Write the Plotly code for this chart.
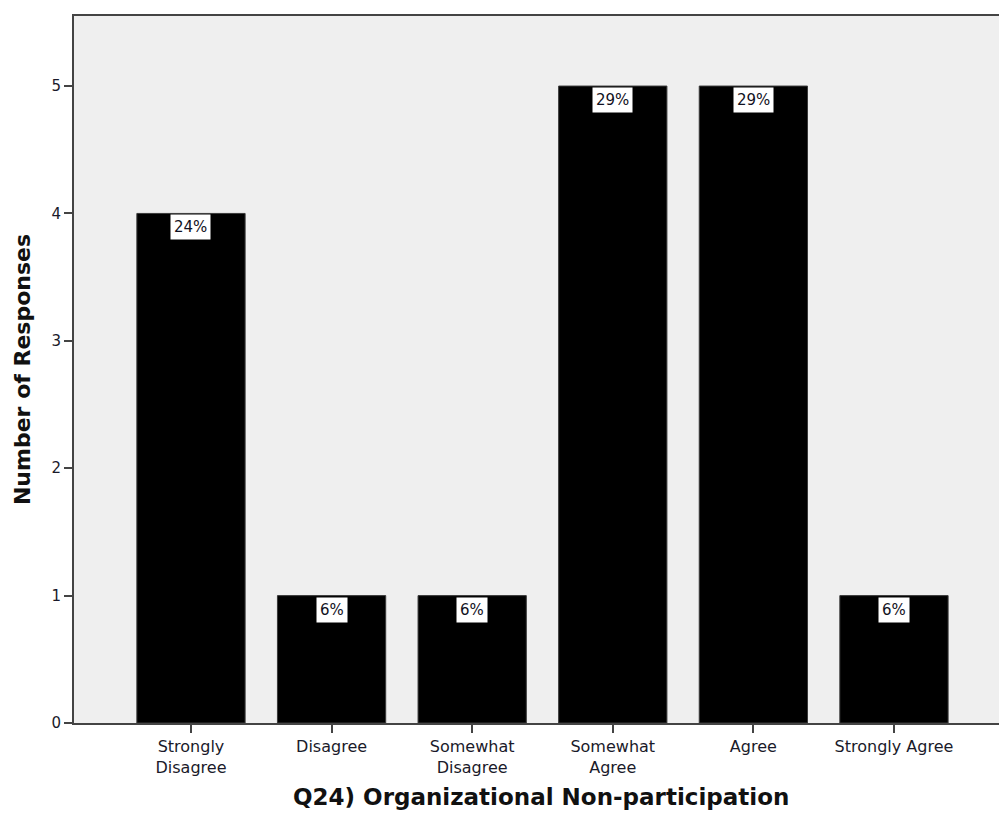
import plotly.graph_objects as go

# Survey item: organizational non-participation
categories = ["Strongly<br>Disagree", "Disagree", "Somewhat<br>Disagree",
              "Somewhat<br>Agree", "Agree", "Strongly Agree"]
counts = [4, 1, 1, 5, 5, 1]
y_ticks = [0, 1, 2, 3, 4, 5]

total = sum(counts)
pct_labels = [f"{round(100 * c / total)}%" for c in counts]

x_pos = list(range(len(categories)))

fig = go.Figure()
fig.add_trace(go.Bar(
    x=x_pos,
    y=counts,
    width=0.77,
    marker=dict(color="#000000", line=dict(color="#3a3a3a", width=1)),
    hoverinfo="skip",
))

# Percentage labels in white boxes just inside the top of each bar
for xi, c, lab in zip(x_pos, counts, pct_labels):
    fig.add_annotation(
        x=xi, y=c, xref="x", yref="y",
        text=lab, showarrow=False,
        yanchor="top", yshift=-1,
        font=dict(family="DejaVu Sans", size=15, color="#111122"),
        bgcolor="#ffffff", borderpad=3,
    )

# Axis title centred under the full category span
fig.add_annotation(
    x=0.5054, y=-0.105, xref="paper", yref="paper",
    text="<b>Q24) Organizational Non-participation</b>",
    showarrow=False, xanchor="center", yanchor="middle",
    font=dict(family="DejaVu Sans", size=23, color="#111111"),
)

fig.update_layout(
    width=999, height=813,
    margin=dict(l=74, r=0, t=16, b=90),
    paper_bgcolor="#ffffff",
    plot_bgcolor="#efefef",
    showlegend=False,
    font=dict(family="DejaVu Sans", color="#1a1a2a"),
    xaxis=dict(
        range=[-0.832, 5.747],
        tickmode="array", tickvals=x_pos, ticktext=categories,
        ticks="outside", ticklen=8, tickwidth=2, tickcolor="#444444",
        showline=True, linecolor="#444444", linewidth=2, mirror=True,
        showgrid=False, zeroline=False,
        tickfont=dict(family="DejaVu Sans", size=16, color="#1a1a2a"),
    ),
    yaxis=dict(
        range=[0, 5.55],
        tickmode="array", tickvals=y_ticks,
        ticks="outside", ticklen=8, tickwidth=2, tickcolor="#444444",
        showline=True, linecolor="#444444", linewidth=2,
        showgrid=False, zeroline=False,
        tickfont=dict(family="DejaVu Sans", size=15, color="#1a1a2a"),
        title=dict(text="<b>Number of Responses</b>", standoff=15,
                   font=dict(family="DejaVu Sans", size=22, color="#111111")),
    ),
)

fig.write_html("out.html")
